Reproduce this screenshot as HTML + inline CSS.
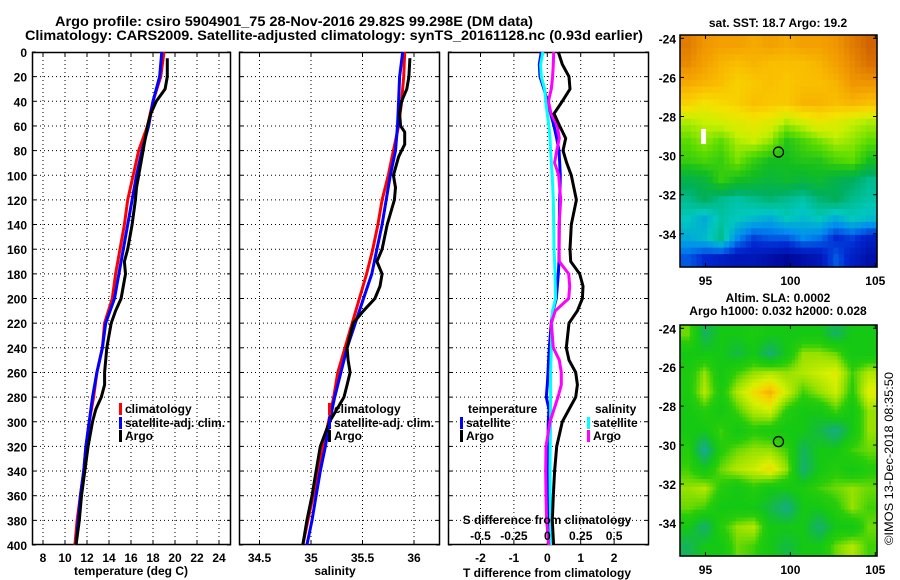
<!DOCTYPE html>
<html><head><meta charset="utf-8"><style>
html,body{margin:0;padding:0;background:#fff;}
svg{display:block;font-family:"Liberation Sans",sans-serif;}
.b{font-weight:bold;font-size:12px;fill:#000;}
.t{font-weight:bold;font-size:14px;fill:#000;}
</style></head><body>
<svg id="fig" width="900" height="580" viewBox="0 0 900 580" xmlns="http://www.w3.org/2000/svg">
<text class="t" x="55" y="26" textLength="478" lengthAdjust="spacingAndGlyphs">Argo profile: csiro 5904901_75 28-Nov-2016 29.82S 99.298E (DM data)</text>
<text class="t" x="25" y="40" textLength="618" lengthAdjust="spacingAndGlyphs">Climatology: CARS2009. Satellite-adjusted climatology: synTS_20161128.nc (0.93d earlier)</text>
<text transform="translate(893,545) rotate(-90)" font-size="12" textLength="173" lengthAdjust="spacingAndGlyphs">©IMOS 13-Dec-2018 08:35:50</text>
</svg>
<script>
// ---------- profile data ----------
const depthProf = [0,20,40,60,80,100,120,140,160,180,200,220,240,260,280,300,320,340,360,380,400];
const tempClim = [19.0,18.7,18.0,17.5,16.7,16.2,15.7,15.4,15.0,14.6,14.3,13.6,13.4,12.9,12.6,12.2,11.9,11.7,11.4,11.1,10.9];
const tempSat  = [18.8,18.6,18.0,17.6,17.0,16.5,16.1,15.7,15.3,14.9,14.5,13.7,13.4,12.9,12.5,12.2,11.9,11.7,11.4,11.2,11.0];
const salClim = [35.91,35.90,35.88,35.85,35.80,35.75,35.69,35.65,35.60,35.54,35.47,35.40,35.33,35.26,35.22,35.17,35.12,35.07,35.02,34.97,34.92];
const salSat  = [35.89,35.86,35.85,35.84,35.82,35.77,35.73,35.69,35.64,35.59,35.51,35.43,35.35,35.29,35.23,35.18,35.14,35.09,35.05,35.01,34.96];
const depthArgo = [5,20,30,40,50,60,65,75,80,85,100,110,120,140,160,170,180,190,200,210,220,240,250,260,270,280,290,300,320,340,360,380,400];
const tempArgo = [19.3,19.3,19.1,18.3,17.8,17.5,17.4,17.2,17.1,17.0,16.7,16.5,16.4,16.1,15.7,15.4,15.5,15.3,15.1,14.6,14.2,13.8,13.7,13.6,13.6,13.3,12.8,12.5,12.1,11.8,11.5,11.3,11.0];
const salArgo  = [35.96,35.95,35.93,35.88,35.86,35.87,35.91,35.91,35.88,35.85,35.80,35.82,35.81,35.74,35.69,35.64,35.69,35.67,35.62,35.51,35.41,35.35,35.36,35.38,35.35,35.32,35.25,35.18,35.09,35.05,35.01,34.96,34.92];
// difference panel
const depthDiff = [0,10,20,30,40,50,60,70,80,90,100,120,140,160,170,180,190,200,210,220,240,250,260,270,280,290,300,320,340,360,380,400];
const tDiffArgo = [0.33,0.45,0.65,0.68,0.45,0.2,0.37,0.55,0.47,0.58,0.72,0.87,0.72,0.68,0.7,0.97,1.07,1.05,0.9,0.65,0.57,0.65,0.85,0.9,0.85,0.65,0.45,0.28,0.22,0.18,0.15,0.19];
const tDiffSat  = [-0.18,-0.24,-0.22,-0.1,0,0.1,0.2,0.28,0.35,0.37,0.39,0.37,0.36,0.35,0.35,0.33,0.3,0.27,0.17,0.12,0.06,0.04,0.02,0,-0.03,0.05,0.03,0.02,0,0.03,0.05,0.07];
const sDiffSat  = [-0.033,-0.05,-0.045,-0.02,-0.012,0,0.012,0.02,0.025,0.03,0.037,0.045,0.048,0.05,0.055,0.058,0.06,0.062,0.04,0.035,0.03,0.028,0.025,0.025,0.025,0.025,0.025,0.022,0.02,0.022,0.025,0.028];
const sDiffArgo = [0.048,0.045,0.04,0.03,0.008,0.028,0.075,0.09,0.07,0.055,0.085,0.1,0.088,0.088,0.09,0.16,0.168,0.16,0.06,0.03,0.045,0.09,0.105,0.105,0.08,0.05,0.02,-0.01,-0.012,-0.01,-0.005,0.012];
const depthTicks = [0,20,40,60,80,100,120,140,160,180,200,220,240,260,280,300,320,340,360,380,400];
const tTicks = [8,10,12,14,16,18,20,22,24];
const sTicks = [34.5,35,35.5,36];
const dTTicks = [-2,-1,0,1,2];
const dSTicks = [-0.5,-0.25,0,0.25,0.5];
const dSTickLabels = ['-0.5','-0.25','0','0.25','0.5'];
// ---------- map data ----------
const sstGrid = [
[20.8,20.6,20.5,20.5,20.4,20.5,20.4,20.5,20.5,20.6,20.8,21.0],
[20.7,20.5,20.3,20.2,20.3,20.2,20.2,20.2,20.3,20.5,20.7,20.9],
[20.4,20.3,20.2,20.0,20.1,20.2,20.1,20.2,20.2,20.3,20.6,20.6],
[20.0,19.8,19.9,20.0,20.2,20.1,20.1,20.3,20.3,20.2,20.3,20.2],
[19.3,19.4,19.5,19.6,19.7,19.6,19.3,19.5,19.7,19.6,19.4,19.3],
[19.0,19.2,19.0,19.3,19.4,19.2,18.7,18.9,19.1,19.3,19.2,19.0],
[18.8,18.9,18.8,19.1,18.8,18.6,18.6,18.7,18.7,18.9,19.0,18.6],
[18.3,18.4,18.8,18.6,18.5,18.4,18.5,18.4,18.5,18.3,18.2,18.0],
[18.0,18.2,18.0,17.9,18.0,18.1,18.0,17.9,18.1,18.2,18.0,17.9],
[17.8,17.6,17.9,17.8,17.7,17.6,17.8,17.7,17.8,17.6,17.8,17.7],
[17.6,17.7,18.0,17.4,17.1,17.2,17.2,17.4,17.3,17.0,17.1,16.9],
[17.2,17.0,16.9,16.8,16.8,16.7,16.6,16.7,16.8,17.2,16.9,16.7]];
const slaGrid = [
[0.04,-0.03,0,0,0.01,0,0,0,0,-0.03,0,0],
[0,0,0,-0.02,0,-0.04,0,0.05,0.05,0.04,0,0],
[0.01,0.05,0,0.03,0.05,0.06,0.05,0.06,0.07,0.08,0.03,0.06],
[0.01,0.06,0.01,0.06,0.09,0.11,0.07,0.03,0.05,0.07,0.02,0.08],
[0,0.02,0,0.03,0.06,0.07,0.02,0,0,0.03,0,0.05],
[0,0,0.03,0,0.02,0.01,0,0,-0.02,-0.05,0,0.05],
[0.02,-0.06,0.02,0.04,0.05,0.05,0.03,-0.03,0,0,0.03,0.04],
[0.03,0,0.04,0.06,0.07,0.09,0.05,-0.04,0,0.02,0,0.02],
[0.05,0.06,0.02,0,0.02,0,0,0.01,0.03,0.04,0.05,0.04],
[0.04,0.03,0,0,0,-0.02,-0.05,0,0,0.02,0.05,0.03],
[0,-0.04,0.02,0.05,0.06,0,0,0,-0.04,0,0,0.04],
[-0.03,0,0,0.04,0.03,0,-0.02,0,0,0.04,0.06,0.03]];
const latTicks = [-24,-26,-28,-30,-32,-34];
const lonTicks = [95,100,105];
const argoLon = 99.298, argoLat = -29.82;

const NS='http://www.w3.org/2000/svg';
const svg=document.getElementById('fig');
function el(tag,attrs,parent){const e=document.createElementNS(NS,tag);for(const k in attrs)e.setAttribute(k,attrs[k]);(parent||svg).appendChild(e);return e;}
const Y0=52,Y1=545;
const yD=d=>Y0+d*(Y1-Y0)/400;

function panel(name,x0,x1,xs,ticks,labels,showY){
  const g=el('g',{});
  
  
  ticks.forEach(v=>{const x=xs(v);
    const l=el('line',{x1:x,x2:x,y1:Y0,y2:Y1,stroke:'#000','stroke-width':1,'stroke-dasharray':'1,3'},g);
    
    
    el('line',{x1:x,x2:x,y1:Y1,y2:Y1-4,stroke:'#000'},g);
    el('line',{x1:x,x2:x,y1:Y0,y2:Y0+4,stroke:'#000'},g);
    if(labels){const t=el('text',{x:x,y:562,'text-anchor':'middle',class:'b'},g);t.textContent=labels(v);
      
      }
  });
  depthTicks.forEach(d=>{const y=yD(d);
    if(d>0&&d<400){const l=el('line',{x1:x0,x2:x1,y1:y,y2:y,stroke:'#000','stroke-width':1,'stroke-dasharray':'1,3'},g);
      
      }
    el('line',{x1:x0,x2:x0+4,y1:y,y2:y,stroke:'#000'},g);
    el('line',{x1:x1,x2:x1-4,y1:y,y2:y,stroke:'#000'},g);
    if(showY){const t=el('text',{x:27,y:y+5,'text-anchor':'end',class:'b'},g);t.textContent=d;
      
      }
  });
  const r=el('rect',{x:x0+0.5,y:Y0+0.5,width:x1-x0-1,height:Y1-Y0-1,fill:'none',stroke:'#000','stroke-width':1.5},g);
  
  
  return g;
}
function line(g,name,xs,depths,vals,color){
  const pts=depths.map((d,i)=>xs(vals[i]).toFixed(1)+','+yD(d).toFixed(1)).join(' ');
  const p=el('polyline',{points:pts,fill:'none',stroke:color,'stroke-width':3,'stroke-linejoin':'miter'},g);
  
  
}
function txt(s,x,y,name,extra,parent){const t=el('text',Object.assign({x:x,y:y,class:'b'},extra||{}),parent);t.textContent=s;
  
  return t;}
function legend(name,g,x,y,color,label){
  const m=el('rect',{x:x,y:y-10,width:3,height:12,fill:color},g);
  
  
  txt(label,x+6,y,name,{},g);
}
// Panel 1 temperature
const xT=v=>32+(v-7)*11;
const g1=panel('temperature-panel',32,231,xT,tTicks,v=>v,true);
line(g1,'temp-climatology-line',xT,depthProf,tempClim,'#ff0000');
line(g1,'temp-satellite-line',xT,depthProf,tempSat,'#0000ff');
line(g1,'temp-argo-line',xT,depthArgo,tempArgo,'#000000');
txt('temperature (deg C)',131,575,'temperature-axis-title',{'text-anchor':'middle'});
legend('legend-climatology',g1,119,413,'#ff0000','climatology');
legend('legend-satellite-adj',g1,119,427,'#0000ff','satellite-adj. clim.');
legend('legend-argo',g1,119,440,'#000000','Argo');
// Panel 2 salinity
const xS=v=>311+(v-35)*103;
const g2=panel('salinity-panel',239,440,xS,sTicks,v=>v,false);
line(g2,'sal-climatology-line',xS,depthProf,salClim,'#ff0000');
line(g2,'sal-satellite-line',xS,depthProf,salSat,'#0000ff');
line(g2,'sal-argo-line',xS,depthArgo,salArgo,'#000000');
txt('salinity',335,575,'salinity-axis-title',{'text-anchor':'middle'});
legend('legend-climatology-2',g2,328,413,'#ff0000','climatology');
legend('legend-satellite-adj-2',g2,328,427,'#0000ff','satellite-adj. clim.');
legend('legend-argo-2',g2,328,440,'#000000','Argo');
// Panel 3 differences
const xDT=v=>547.3+v*33.4;
const xDS=v=>547.3+v*4*33.4;
const g3=panel('difference-panel',448,649,xDT,dTTicks,v=>v,false);
line(g3,'t-diff-satellite-line',xDT,depthDiff,tDiffSat,'#0000ff');
line(g3,'s-diff-satellite-line',xDS,depthDiff,sDiffSat,'#00ffff');
line(g3,'s-diff-argo-line',xDS,depthDiff,sDiffArgo,'#ff00ff');
line(g3,'t-diff-argo-line',xDT,depthDiff,tDiffArgo,'#000000');
txt('T difference from climatology',547,577,'t-diff-axis-title',{'text-anchor':'middle'});
txt('S difference from climatology',547,524,'s-diff-axis-title',{'text-anchor':'middle'},g3);
dSTicks.forEach((v,i)=>txt(dSTickLabels[i],xDS(v),540,'s-diff-tick-label',{'text-anchor':'middle'},g3));
txt('temperature',468,413,'legend-temperature-heading',{},g3);
legend('legend-t-satellite',g3,460,427,'#0000ff','satellite');
legend('legend-t-argo',g3,460,440,'#000000','Argo');
txt('salinity',595,413,'legend-salinity-heading',{},g3);
legend('legend-s-satellite',g3,587,427,'#00ffff','satellite');
legend('legend-s-argo',g3,587,440,'#ff00ff','Argo');

// ---------- maps ----------
function cm(stops,v){
  if(v<=stops[0][0])return 'rgb('+stops[0][1].join(',')+')';
  for(let i=1;i<stops.length;i++){if(v<=stops[i][0]){const a=stops[i-1],b=stops[i];const f=(v-a[0])/(b[0]-a[0]);
    return 'rgb('+[0,1,2].map(k=>Math.round(a[1][k]+(b[1][k]-a[1][k])*f)).join(',')+')';}}
  return 'rgb('+stops[stops.length-1][1].join(',')+')';
}
const sstStops=[[16.5,[0,0,140]],[17.0,[0,40,210]],[17.4,[0,140,240]],[17.8,[0,200,190]],[18.2,[0,175,90]],[18.6,[20,190,30]],[19.0,[90,220,0]],[19.4,[200,240,0]],[19.8,[245,225,0]],[20.2,[250,190,0]],[20.6,[240,150,0]],[21.0,[210,100,0]]];
const slaStops=[[-0.07,[20,170,160]],[-0.03,[20,180,90]],[0,[20,200,20]],[0.025,[40,205,10]],[0.05,[150,225,0]],[0.075,[215,240,0]],[0.095,[250,210,0]],[0.12,[240,160,0]]];
function bilin(grid,fy,fx){const R=grid.length,C=grid[0].length;
  const y=Math.min(Math.max(fy,0),R-1),x=Math.min(Math.max(fx,0),C-1);
  const y0=Math.floor(y),x0=Math.floor(x),y1=Math.min(y0+1,R-1),x1=Math.min(x0+1,C-1),ty=y-y0,tx=x-x0;
  return grid[y0][x0]*(1-ty)*(1-tx)+grid[y0][x1]*(1-ty)*tx+grid[y1][x0]*ty*(1-tx)+grid[y1][x1]*ty*tx;}
function map(name,grid,stops,x0,x1,y0,y1,sub){
  const g=el('g',{});
  
  
  const R=grid.length,C=grid[0].length,N=R*sub,M=C*sub,cw=(x1-x0)/M,ch=(y1-y0)/N;
  for(let i=0;i<N;i++)for(let j=0;j<M;j++){
    const v=bilin(grid,(i+0.5)/sub-0.5,(j+0.5)/sub-0.5);
    const r=el('rect',{x:(x0+j*cw).toFixed(2),y:(y0+i*ch).toFixed(2),width:(cw+0.6).toFixed(2),height:(ch+0.6).toFixed(2),fill:cm(stops,v)},g);
    
    
  }
  const lonX=l=>x0+(l-93.5)*(x1-x0)/11.6;
  const latY=l=>y0+(-23.83-l)*(y1-y0)/11.87;
  latTicks.forEach(l=>{const y=latY(l);el('line',{x1:x0,x2:x0+4,y1:y,y2:y,stroke:'#000'},g);el('line',{x1:x1,x2:x1-4,y1:y,y2:y,stroke:'#000'},g);
    txt(String(l),676,y+5,'lat-tick-label',{'text-anchor':'end'},g);});
  lonTicks.forEach(l=>{const x=lonX(l);el('line',{x1:x,x2:x,y1:y1,y2:y1-4,stroke:'#000'},g);el('line',{x1:x,x2:x,y1:y0,y2:y0+4,stroke:'#000'},g);
    txt(String(l),x,y1+18,'lon-tick-label',{'text-anchor':'middle'},g);});
  const c=el('circle',{cx:lonX(argoLon),cy:latY(argoLat),r:5,fill:'none',stroke:'#000','stroke-width':1.3},g);
  
  
  const f=el('rect',{x:x0,y:y0,width:x1-x0,height:y1-y0,fill:'none',stroke:'#000','stroke-width':1.5},g);
  
  
  return g;
}
const m1=map('sst-map',sstGrid,sstStops,680,877,35,267,3);
const wm=el('rect',{x:701,y:129,width:5,height:15,fill:'#fff'},m1);


txt('sat. SST: 18.7 Argo: 19.2',778,27,'sst-map-title',{'text-anchor':'middle'});
map('sla-map',slaGrid,slaStops,680,877,325,556,5);
txt('Altim. SLA: 0.0002',778,302,'sla-map-title',{'text-anchor':'middle'});
txt('Argo h1000: 0.032 h2000: 0.028',778,315,'sla-map-subtitle',{'text-anchor':'middle'});
</script>
</body></html>
